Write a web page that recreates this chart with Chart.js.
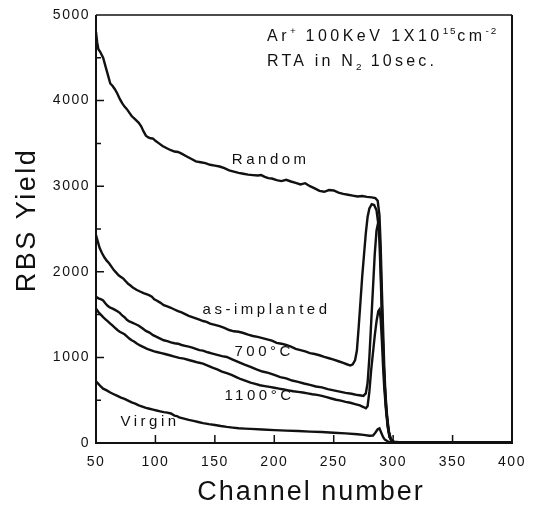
<!DOCTYPE html>
<html>
<head>
<meta charset="utf-8">
<script src="https://cdn.jsdelivr.net/npm/chart.js@4"></script>
<style>
  body { margin: 0; background: #fff; }
  #wrap { width: 539px; height: 509px; }
</style>
</head>
<body>
<div id="wrap"><canvas id="rbsChart" width="539" height="509"></canvas></div>
<script>
// RBS spectra (channel number -> yield)
const randomChannel = [50, 51, 52, 53.5, 56, 58, 60, 62, 64, 66, 68, 70, 72, 74, 76, 78, 80, 83, 86, 88, 90, 92, 94, 96, 98, 100, 103, 106, 110, 113, 116, 119, 122, 126, 130, 134, 138, 142, 146, 150, 154, 158, 162, 166, 170, 174, 178, 182, 186, 189, 192, 195, 198, 202, 206, 210, 214, 218, 222, 226, 230, 234, 238, 242, 246, 250, 254, 258, 262, 266, 270, 274, 278, 282, 285, 287, 288.5, 289.5, 290.5, 291.5, 292.5, 293.5, 295, 296.5, 298, 300, 305, 350, 400];
const randomYield = [4800, 4680, 4600, 4570, 4500, 4400, 4300, 4200, 4170, 4130, 4080, 4020, 3970, 3930, 3900, 3860, 3820, 3780, 3740, 3700, 3640, 3590, 3570, 3560, 3555, 3530, 3500, 3470, 3440, 3420, 3405, 3400, 3380, 3350, 3320, 3290, 3280, 3270, 3250, 3240, 3230, 3210, 3185, 3170, 3155, 3145, 3135, 3130, 3125, 3130, 3110, 3095, 3090, 3070, 3060, 3075, 3055, 3040, 3020, 3035, 3000, 2975, 2945, 2935, 2955, 2950, 2925, 2910, 2900, 2890, 2880, 2885, 2875, 2870, 2860, 2830, 2660, 2300, 1800, 1350, 900, 580, 300, 130, 50, 15, 8, 5, 5];

const implantedChannel = [50, 51, 53, 55, 57, 59, 61, 63, 65, 67, 69, 71, 73, 75, 77, 79, 81, 84, 87, 90, 93, 95, 97, 99, 101, 104, 107, 110, 113, 116, 119, 122, 125, 128, 131, 134, 137, 140, 143, 146, 150, 154, 158, 162, 166, 170, 174, 178, 182, 186, 190, 194, 198, 202, 206, 210, 214, 218, 222, 226, 230, 234, 238, 242, 246, 250, 254, 258, 261, 264, 266, 268, 269.5, 271, 272.5, 274, 275.5, 277, 278.5, 280, 282, 284, 286, 287.5, 288.5, 289.5, 290.5, 291.5, 292.5, 294, 295.5, 297, 299, 302, 400];
const implantedYield = [2430, 2380, 2280, 2220, 2170, 2130, 2100, 2060, 2020, 1990, 1960, 1940, 1920, 1890, 1860, 1840, 1815, 1790, 1770, 1750, 1735, 1725, 1710, 1680, 1665, 1640, 1610, 1595, 1580, 1560, 1540, 1525, 1505, 1485, 1470, 1455, 1440, 1425, 1415, 1395, 1380, 1365, 1345, 1320, 1305, 1300, 1285, 1265, 1250, 1240, 1225, 1210, 1195, 1170, 1160, 1145, 1125, 1100, 1085, 1070, 1050, 1040, 1025, 1005, 990, 975, 955, 935, 920, 905, 920, 970, 1080, 1350, 1650, 1950, 2200, 2450, 2640, 2740, 2790, 2780, 2720, 2560, 2350, 1950, 1500, 1100, 750, 420, 200, 70, 20, 5, 5];

const c700Channel = [50, 52, 54, 56, 58, 60, 62, 64, 66, 68, 70, 72, 74, 76, 78, 80, 83, 86, 89, 92, 95, 98, 101, 104, 107, 110, 113, 116, 119, 122, 125, 128, 131, 134, 137, 140, 144, 148, 152, 156, 160, 165, 170, 175, 180, 185, 190, 195, 200, 205, 210, 215, 220, 225, 230, 235, 240, 245, 250, 255, 260, 265, 270, 273, 275, 277, 278.5, 280, 281.5, 283, 284.5, 286, 287.5, 288.5, 289.5, 290.5, 291.5, 292.5, 294, 295.5, 297, 299, 302, 400];
const c700Yield = [1710, 1690, 1680, 1665, 1630, 1600, 1580, 1570, 1555, 1540, 1520, 1490, 1470, 1440, 1420, 1410, 1390, 1370, 1340, 1310, 1290, 1260, 1240, 1220, 1200, 1190, 1175, 1165, 1160, 1145, 1135, 1125, 1115, 1100, 1085, 1080, 1060, 1045, 1030, 1015, 1005, 975, 945, 915, 890, 860, 835, 820, 795, 770, 755, 730, 715, 695, 680, 660, 650, 630, 615, 600, 585, 575, 560, 555, 550, 580, 700, 1000, 1400, 1800, 2200, 2480, 2580, 2500, 2100, 1600, 1150, 780, 430, 210, 80, 25, 5, 5];

const c1100Channel = [50, 52, 54, 56, 58, 60, 62, 64, 66, 68, 70, 72, 74, 76, 78, 80, 82, 84, 87, 90, 93, 96, 99, 102, 105, 108, 112, 116, 120, 124, 128, 132, 136, 140, 144, 148, 152, 156, 160, 164, 168, 172, 176, 180, 184, 188, 192, 196, 200, 204, 208, 212, 216, 220, 224, 228, 232, 236, 240, 244, 248, 252, 256, 260, 264, 268, 272, 275, 277, 278.5, 280, 281.5, 283, 284.5, 286, 287.5, 288.5, 289.5, 290.5, 291.5, 292.5, 294, 295.5, 297, 299, 302, 400];
const c1100Yield = [1570, 1530, 1500, 1470, 1445, 1420, 1395, 1370, 1345, 1320, 1300, 1285, 1270, 1245, 1220, 1200, 1185, 1165, 1140, 1120, 1100, 1085, 1070, 1060, 1050, 1040, 1025, 1010, 995, 985, 970, 955, 940, 928, 905, 880, 860, 835, 815, 795, 770, 745, 725, 705, 690, 675, 665, 655, 645, 636, 625, 615, 605, 597, 590, 580, 570, 562, 550, 535, 520, 505, 495, 480, 470, 455, 440, 420, 405, 430, 600, 850, 1050, 1250, 1420, 1540, 1560, 1450, 1200, 900, 650, 380, 180, 70, 20, 5, 5];

const virginChannel = [50, 52, 54, 56, 59, 62, 65, 68, 71, 74, 77, 80, 83, 86, 89, 92, 95, 98, 101, 104, 107, 110, 113, 116, 118, 120, 124, 128, 132, 136, 140, 145, 150, 155, 160, 165, 170, 175, 180, 190, 200, 210, 220, 230, 240, 250, 260, 270, 275, 280, 283, 285, 287, 288.5, 290, 291.5, 293, 296, 300, 400];
const virginYield = [720, 690, 660, 635, 615, 590, 570, 550, 530, 515, 495, 475, 460, 440, 425, 410, 400, 390, 380, 370, 360, 355, 345, 320, 315, 300, 285, 270, 258, 245, 232, 220, 210, 198, 188, 180, 172, 168, 165, 158, 150, 145, 140, 133, 128, 120, 112, 102, 95, 85, 88, 120, 160, 170, 120, 70, 40, 15, 5, 5];

const xTickValues = [100, 150, 200, 250, 300, 350];
const yMajorTicks = [1000, 2000, 3000, 4000];
const yMinorTicks = [500, 1500, 2500, 3500, 4500];

// curve labels, placed in data coordinates
const curveNotes = [
    { text: "Random", ch: 197, y: 3306 },
    { text: "as-implanted", ch: 193.5, y: 1552 },
    { text: "700\u00B0C", ch: 191.5, y: 1061 },
    { text: "1100\u00B0C", ch: 187.5, y: 546 },
    { text: "Virgin", ch: 95.5, y: 246 }
];

const headerLines = [
    [["Ar", ""], ["+", "sup"], [" 100KeV 1X10", ""], ["15", "sup"], ["cm", ""], ["-2", "sup"]],
    [["RTA in N", ""], ["2", "sub"], [" 10sec.", ""]]
];

const FONT = '"Liberation Sans", Arial, sans-serif';
const INK = "#111";

const buildPoints = (channels, yields) => channels.map((c, i) => ({ x: c, y: yields[i] }));

const drawRuns = (ctx, runs, x, y, size, spacing) => {
    let cx = x;
    runs.forEach(([text, kind]) => {
        let s = size;
        let dy = 0;
        if (kind === "sup") { s = size * 0.62; dy = -size * 0.45; }
        if (kind === "sub") { s = size * 0.62; dy = size * 0.25; }
        ctx.font = `${s}px ${FONT}`;
        ctx.letterSpacing = (kind ? spacing * 0.5 : spacing) + "px";
        ctx.fillText(text, cx, y + dy);
        cx += ctx.measureText(text).width;
    });
}

const paperPlugin = {
    id: "paper",
    beforeDraw(chart) {
        chart.ctx.letterSpacing = "1.5px";
    },
    afterDraw(chart) {
        const ctx = chart.ctx;
        const area = chart.chartArea;
        const xs = chart.scales.x;
        const ys = chart.scales.y;
        ctx.save();
        ctx.strokeStyle = INK;
        ctx.fillStyle = INK;

        // frame
        ctx.lineWidth = 2;
        ctx.beginPath();
        ctx.moveTo(area.left, area.top);
        ctx.lineTo(area.left, area.bottom);
        ctx.lineTo(area.right, area.bottom);
        ctx.lineTo(area.right, area.top);
        ctx.stroke();
        ctx.lineWidth = 1.5;
        ctx.beginPath();
        ctx.moveTo(area.left, area.top);
        ctx.lineTo(area.right, area.top);
        ctx.stroke();

        // inward tick marks
        ctx.lineWidth = 1.5;
        ctx.beginPath();
        xTickValues.forEach(v => {
            const px = xs.getPixelForValue(v);
            ctx.moveTo(px, area.bottom);
            ctx.lineTo(px, area.bottom - 8);
        });
        yMajorTicks.forEach(v => {
            const py = ys.getPixelForValue(v);
            ctx.moveTo(area.left, py);
            ctx.lineTo(area.left + 8, py);
        });
        yMinorTicks.forEach(v => {
            const py = ys.getPixelForValue(v);
            ctx.moveTo(area.left, py);
            ctx.lineTo(area.left + 5, py);
        });
        ctx.stroke();

        // curve labels
        ctx.textAlign = "center";
        ctx.textBaseline = "middle";
        ctx.font = `15px ${FONT}`;
        ctx.letterSpacing = "3.5px";
        curveNotes.forEach(n => {
            ctx.fillText(n.text, xs.getPixelForValue(n.ch), ys.getPixelForValue(n.y));
        });

        // experiment conditions
        ctx.textAlign = "left";
        ctx.textBaseline = "alphabetic";
        drawRuns(ctx, headerLines[0], 267, 41, 16, 3.5);
        drawRuns(ctx, headerLines[1], 267, 66, 16, 3.2);

        // axis titles
        ctx.textAlign = "center";
        ctx.font = `27px ${FONT}`;
        ctx.letterSpacing = "2px";
        ctx.fillText("Channel number", 311, 500);
        ctx.translate(35, 220);
        ctx.rotate(-Math.PI / 2);
        ctx.letterSpacing = "2.5px";
        ctx.fillText("RBS Yield", 0, 0);
        ctx.restore();
    }
};

const lineStyle = {
    showLine: true,
    borderColor: INK,
    borderWidth: 2.4,
    pointRadius: 0,
    tension: 0,
    fill: false
};

new Chart("rbsChart", {
    type: "scatter",
    data: {
        datasets: [
            { ...lineStyle, label: "Random", data: buildPoints(randomChannel, randomYield) },
            { ...lineStyle, label: "as-implanted", data: buildPoints(implantedChannel, implantedYield) },
            { ...lineStyle, label: "700°C", data: buildPoints(c700Channel, c700Yield) },
            { ...lineStyle, label: "1100°C", data: buildPoints(c1100Channel, c1100Yield) },
            { ...lineStyle, label: "Virgin", data: buildPoints(virginChannel, virginYield) }
        ]
    },
    options: {
        responsive: false,
        animation: false,
        layout: { padding: { left: 0, right: 27, top: 15, bottom: 0 } },
        plugins: {
            legend: { display: false },
            tooltip: { enabled: false }
        },
        scales: {
            x: {
                type: "linear",
                min: 50,
                max: 400,
                grid: { display: false, drawTicks: false },
                border: { display: false },
                ticks: { stepSize: 50, padding: 11, color: INK, font: { family: FONT, size: 14 }, callback: (v) => String(v) },
                afterFit: (scale) => { scale.height = 66; }
            },
            y: {
                min: 0,
                max: 5000,
                grid: { display: false, drawTicks: false },
                border: { display: false },
                ticks: { stepSize: 1000, padding: 6, color: INK, font: { family: FONT, size: 14 }, callback: (v) => String(v) },
                afterFit: (scale) => { scale.width = 96; }
            }
        }
    },
    plugins: [paperPlugin]
});
</script>
</body>
</html>
